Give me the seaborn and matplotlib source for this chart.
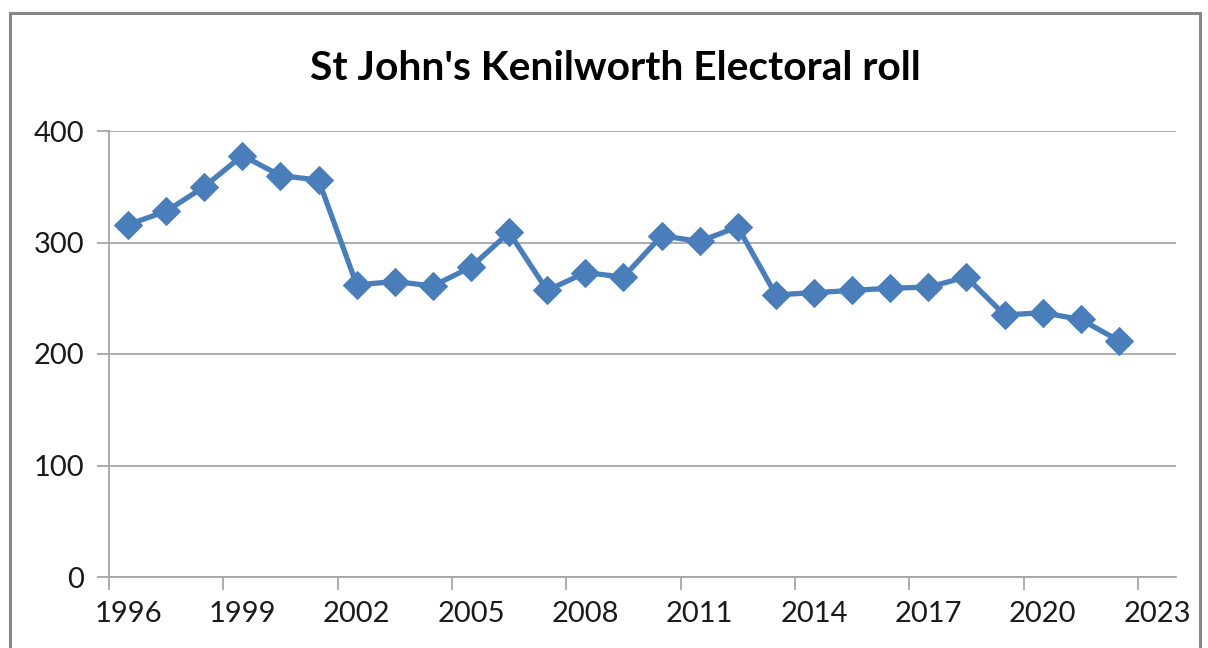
import matplotlib
matplotlib.use("Agg")
import matplotlib.pyplot as plt
import seaborn as sns
import pandas as pd
from matplotlib.patches import Rectangle

years = [1996, 1997, 1998, 1999, 2000, 2001, 2002, 2003, 2004, 2005, 2006, 2007, 2008,
         2009, 2010, 2011, 2012, 2013, 2014, 2015, 2016, 2017, 2018, 2019, 2020, 2021, 2022]
roll = [316, 328, 350, 378, 360, 356, 262, 265, 261, 278, 309, 257, 273,
        269, 306, 301, 314, 253, 255, 257, 259, 260, 269, 235, 237, 231, 212]
tick_years = [1996, 1999, 2002, 2005, 2008, 2011, 2014, 2017, 2020, 2023]
y_ticks = [0, 100, 200, 300, 400]
title = "St John's Kenilworth Electoral roll"

sns.set_style("white")
plt.rcParams['font.family'] = ['Lato', 'DejaVu Sans']

df = pd.DataFrame({"year": years, "roll": roll})
# Excel-style category axis: points and labels sit mid-way between tick marks
df["pos"] = df["year"] + 0.5

fig = plt.figure(figsize=(12.08, 6.48), dpi=100)
ax = fig.add_axes([109 / 1208, 71 / 648, 1067 / 1208, 446 / 648])

color = "#4A7EBB"
sns.lineplot(data=df, x="pos", y="roll", ax=ax, color=color, linewidth=3.8,
             marker="D", markersize=14, markeredgecolor=color, markerfacecolor=color)

ax.set_xlim(tick_years[0], tick_years[-1] + 1)
ax.set_ylim(0, 400)
# tick marks at category boundaries, labels centred on categories
ax.set_xticks(tick_years)
ax.set_xticklabels([])
ax.set_xticks([t + 0.5 for t in tick_years], minor=True)
ax.set_xticklabels([str(t) for t in tick_years], minor=True)
ax.set_yticks(y_ticks)
ax.set_xlabel("")
ax.set_ylabel("")

ax.grid(axis="y", which="major", color="#A6A6A6", linewidth=1.3)
ax.set_axisbelow(True)
for s in ["top", "right"]:
    ax.spines[s].set_visible(False)
for s in ["left", "bottom"]:
    ax.spines[s].set_color("#A6A6A6")
    ax.spines[s].set_linewidth(1.3)

ax.tick_params(axis="both", which="major", colors="#A6A6A6", labelcolor="#1a1a1a",
               labelsize=21, length=9, width=1.3, direction="out",
               bottom=True, left=True)
ax.tick_params(axis="x", which="minor", bottom=True, length=0, labelsize=21,
               labelcolor="#1a1a1a", pad=17)
ax.tick_params(axis="y", pad=9)

fig.text(615 / 1208, 1 - 68 / 648, title, ha="center", va="center", fontsize=29.3,
         fontweight="bold", color="#000000")

fig.patches.append(Rectangle((10 / 1208, -0.05), 1190 / 1208, 1 - 13 / 648 + 0.05,
                             transform=fig.transFigure, fill=False,
                             edgecolor="#888888", linewidth=2.2, zorder=10))

fig.savefig("out.png", dpi=100, facecolor="white")
